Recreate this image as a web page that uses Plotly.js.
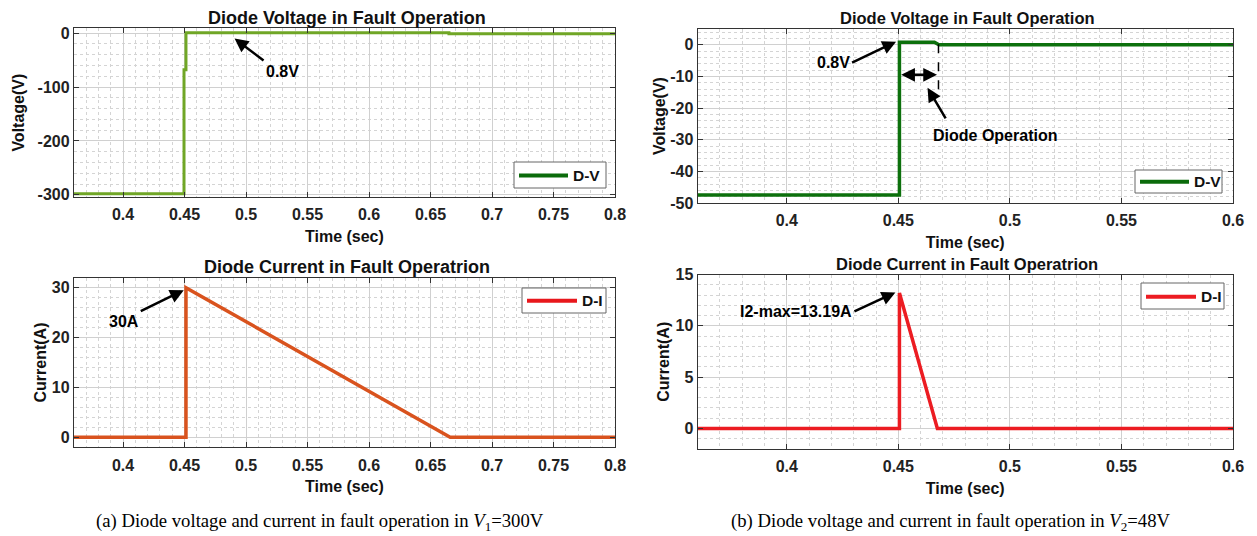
<!DOCTYPE html>
<html><head><meta charset="utf-8">
<script src="https://cdn.plot.ly/plotly-3.0.1.min.js"></script>
<style>html,body{margin:0;padding:0;background:#fff;}#chart{width:1257px;height:536px;}</style>
</head><body><div id="chart"></div>
<script>
// ---------- DATA ----------
// (a) V1 = 300 V
const timeA_V = [0.36, 0.4496, 0.4496, 0.4512, 0.4512, 0.665, 0.665, 0.8];
const voltA   = [-298, -298, -68, -68, 0.8, 0.8, -1, -1];
const timeA_I = [0.36, 0.4512, 0.4512, 0.666, 0.8];
const currA   = [0, 0, 30, 0, 0];
// (b) V2 = 48 V
const timeB_V = [0.36, 0.4505, 0.4505, 0.4662, 0.4682, 0.6];
const voltB   = [-47.5, -47.5, 0.8, 0.8, 0, 0];
const timeB_I = [0.36, 0.4505, 0.4505, 0.4675, 0.6];
const currB   = [0, 0, 13.19, 0, 0];

const xTicksA  = [0.4, 0.45, 0.5, 0.55, 0.6, 0.65, 0.7, 0.75, 0.8];
const xLabelsA = ['0.4', '0.45', '0.5', '0.55', '0.6', '0.65', '0.7', '0.75', '0.8'];
const xTicksB  = [0.4, 0.45, 0.5, 0.55, 0.6];
const xLabelsB = ['0.4', '0.45', '0.5', '0.55', '0.6'];
const yTicksAV  = [-300, -200, -100, 0];
const yLabelsAV = ['-300', '-200', '-100', '0'];
const yTicksBV  = [-50, -40, -30, -20, -10, 0];
const yLabelsBV = ['-50', '-40', '-30', '-20', '-10', '0'];
const yTicksAI  = [0, 10, 20, 30];
const yLabelsAI = ['0', '10', '20', '30'];
const yTicksBI  = [0, 5, 10, 15];
const yLabelsBI = ['0', '5', '10', '15'];

const seriesNames = ['D-V', 'D-V', 'D-I', 'D-I'];
const titleV = 'Diode Voltage in Fault Operation';
const titleI = 'Diode Current in Fault Operatrion';
const captionA = '(a) Diode voltage and current in fault operation in <i>V</i><sub>1</sub>=300V';
const captionB = '(b) Diode voltage and current in fault operation in <i>V</i><sub>2</sub>=48V';

// ---------- LAYOUT ----------
const W = 1257, H = 536;
const SANS = 'Liberation Sans, Arial, Helvetica, sans-serif';
const SERIF = 'Liberation Serif, Times New Roman, serif';
const px = v => v / W;
const py = v => 1 - v / H;
const GRID = '#d0d0d0', MINOR = '#d4d4d4';

function xAxis(l, r, rng, tv, tt, anchor) {
  return {
    domain: [px(l), px(r)], range: rng, anchor: anchor,
    tickmode: 'array', tickvals: tv, ticktext: tt,
    ticks: 'inside', ticklen: 5, tickwidth: 1, tickcolor: '#333',
    showline: true, linecolor: '#333', linewidth: 1, mirror: 'ticks',
    showgrid: true, gridcolor: GRID, gridwidth: 1, zeroline: false,
    minor: {tick0: 0, dtick: 0.01, showgrid: true, gridcolor: MINOR, griddash: 'dot', ticks: ''},
    tickfont: {family: SANS, size: 16, weight: 'bold', color: '#222'},
    ticklabelstandoff: 3,
    title: {text: 'Time (sec)', font: {family: SANS, size: 16, weight: 'bold', color: '#111'}, standoff: 8},
    automargin: false, fixedrange: true
  };
}
function yAxis(t, b, rng, tv, tt, minorD, anchor, ttl, so) {
  return {
    domain: [py(b), py(t)], range: rng, anchor: anchor,
    tickmode: 'array', tickvals: tv, ticktext: tt,
    ticks: 'inside', ticklen: 5, tickwidth: 1, tickcolor: '#333',
    showline: true, linecolor: '#333', linewidth: 1, mirror: 'ticks',
    showgrid: true, gridcolor: GRID, gridwidth: 1, zeroline: false,
    minor: {tick0: 0, dtick: minorD, showgrid: true, gridcolor: MINOR, griddash: 'dot', ticks: ''},
    tickfont: {family: SANS, size: 16, weight: 'bold', color: '#222'},
    title: {text: ttl, font: {family: SANS, size: 16, weight: 'bold', color: '#111'}, standoff: so},
    automargin: false, fixedrange: true
  };
}

const traces = [
  {x: timeA_V, y: voltA, xaxis: 'x', yaxis: 'y', mode: 'lines', name: seriesNames[0],
   line: {color: '#70a626', width: 3}},
  {x: timeB_V, y: voltB, xaxis: 'x2', yaxis: 'y2', mode: 'lines', name: seriesNames[1],
   line: {color: '#0c700c', width: 3.5}},
  {x: timeA_I, y: currA, xaxis: 'x3', yaxis: 'y3', mode: 'lines', name: seriesNames[2],
   line: {color: '#d9531e', width: 3.5}},
  {x: timeB_I, y: currB, xaxis: 'x4', yaxis: 'y4', mode: 'lines', name: seriesNames[3],
   line: {color: '#ec1c22', width: 3.5}}
];

const annFont = {family: SANS, size: 16, weight: 'bold', color: '#000'};
function txt(xr, yr, x, y, text, font, xa) {
  return {xref: xr, yref: yr, x: x, y: y, text: text, showarrow: false, font: font || annFont,
          xanchor: xa || 'center', yanchor: 'middle'};
}
// labelled arrow: tip at data (x,y); text box anchored (xa,ya) at pixel offset (ax,ay) from tip
function label(xr, yr, x, y, ax, ay, text, xa, ya) {
  return {xref: xr, yref: yr, x: x, y: y, ax: ax, ay: ay, text: text, font: annFont,
          xanchor: xa, yanchor: ya, showarrow: true,
          arrowhead: 2, arrowsize: 1.1, arrowwidth: 2.5, arrowcolor: '#000', standoff: 0};
}
function arrow(xr, yr, x, y, ax, ay) {
  return {xref: xr, yref: yr, x: x, y: y, ax: ax, ay: ay, text: '', showarrow: true,
          arrowhead: 2, arrowsize: 1.1, arrowwidth: 2.5, arrowcolor: '#000', standoff: 0};
}

// manual MATLAB-style legend boxes (paper pixels): box l,r,t,b ; line x0,x1,y ; colour ; name
const legendBoxes = [
  {l: 514, r: 606, t: 162, b: 188, lx0: 519, lx1: 568, ly: 175.5, c: '#0b6b0b', n: seriesNames[0]},
  {l: 1135, r: 1222, t: 170, b: 193, lx0: 1140, lx1: 1189, ly: 181.7, c: '#0b6b0b', n: seriesNames[1]},
  {l: 522, r: 606, t: 288, b: 313, lx0: 527, lx1: 577, ly: 300.7, c: '#e8171c', n: seriesNames[2]},
  {l: 1141, r: 1224, t: 283, b: 309, lx0: 1146, lx1: 1196, ly: 296.7, c: '#ec1c22', n: seriesNames[3]}
];

const annotations = [
  // subplot titles
  txt('paper', 'paper', px(347), py(18), titleV, {family: SANS, size: 18, weight: 'bold', color: '#111'}),
  txt('paper', 'paper', px(967), py(18), titleV, {family: SANS, size: 16.5, weight: 'bold', color: '#111'}),
  txt('paper', 'paper', px(347), py(267), titleI, {family: SANS, size: 18, weight: 'bold', color: '#111'}),
  txt('paper', 'paper', px(967), py(264), titleI, {family: SANS, size: 16.5, weight: 'bold', color: '#111'}),
  // (a) voltage
  label('x', 'y', 0.4907, -10, 29, 22, '0.8V', 'left', 'top'),
  // (b) voltage
  label('x2', 'y2', 0.4490, 1.0, -44, 21, '0.8V', 'right', 'middle'),
  txt('x2', 'y2', 0.4935, -28.8, 'Diode Operation'),
  arrow('x2', 'y2', 0.4631, -13.6, 19, 32),
  {xref: 'x2', yref: 'y2', axref: 'x2', ayref: 'y2', x: 0.4513, y: -9.5, ax: 0.4680, ay: -9.5,
   text: '', showarrow: true, arrowside: 'end+start', arrowhead: 2, startarrowhead: 2,
   arrowsize: 1.1, startarrowsize: 1.1, arrowwidth: 2.5, arrowcolor: '#000', standoff: 0, startstandoff: 0},
  // (a) current
  label('x3', 'y3', 0.4494, 29.5, -43, 21, '30A', 'right', 'top'),
  // (b) current
  label('x4', 'y4', 0.4487, 13.25, -41, 19, 'I2-max=13.19A', 'right', 'middle'),
  // captions
  txt('paper', 'paper', px(320), py(522), captionA, {family: SERIF, size: 18.7, color: '#000'}),
  txt('paper', 'paper', px(950), py(522), captionB, {family: SERIF, size: 18.7, color: '#000'})
];

const shapes = [
  {type: 'line', xref: 'x2', yref: 'y2', x0: 0.4680, x1: 0.4680, y0: 0.2, y1: -16,
   line: {color: '#000', width: 1.5, dash: 'dash'}}
];

legendBoxes.forEach(b => {
  shapes.push({type: 'rect', xref: 'paper', yref: 'paper', x0: px(b.l), x1: px(b.r), y0: py(b.b), y1: py(b.t),
               fillcolor: '#fff', line: {color: '#666', width: 1}});
  shapes.push({type: 'line', xref: 'paper', yref: 'paper', x0: px(b.lx0), x1: px(b.lx1), y0: py(b.ly), y1: py(b.ly),
               line: {color: b.c, width: 4}});
  annotations.push(txt('paper', 'paper', px(b.lx1 + 3), py(b.ly), b.n,
                       {family: SANS, size: 15.5, weight: 'bold', color: '#111'}, 'left'));
});

const layout = {
  width: W, height: H, margin: {l: 0, r: 0, t: 0, b: 0},
  paper_bgcolor: '#fff', plot_bgcolor: '#fff', showlegend: false,
  xaxis:  xAxis(73.8, 615, [0.36, 0.8], xTicksA, xLabelsA, 'y'),
  yaxis:  yAxis(28.3, 197, [-304, 9], yTicksAV, yLabelsAV, 20, 'x', 'Voltage(V)', 8),
  xaxis2: xAxis(697.5, 1233, [0.36, 0.6], xTicksB, xLabelsB, 'y2'),
  yaxis2: yAxis(29, 203, [-50, 5], yTicksBV, yLabelsBV, 2, 'x2', 'Voltage(V)', 0),
  xaxis3: xAxis(73.8, 615, [0.36, 0.8], xTicksA, xLabelsA, 'y3'),
  yaxis3: yAxis(277.7, 447.3, [-2, 32], yTicksAI, yLabelsAI, 2, 'x3', 'Current(A)', 1),
  xaxis4: xAxis(697.5, 1233, [0.36, 0.6], xTicksB, xLabelsB, 'y4'),
  yaxis4: yAxis(274.5, 449, [-2, 15], yTicksBI, yLabelsBI, 1, 'x4', 'Current(A)', 1),
  annotations: annotations,
  shapes: shapes
};

Plotly.newPlot('chart', traces, layout, {staticPlot: true, displayModeBar: false});
</script>
</body></html>
